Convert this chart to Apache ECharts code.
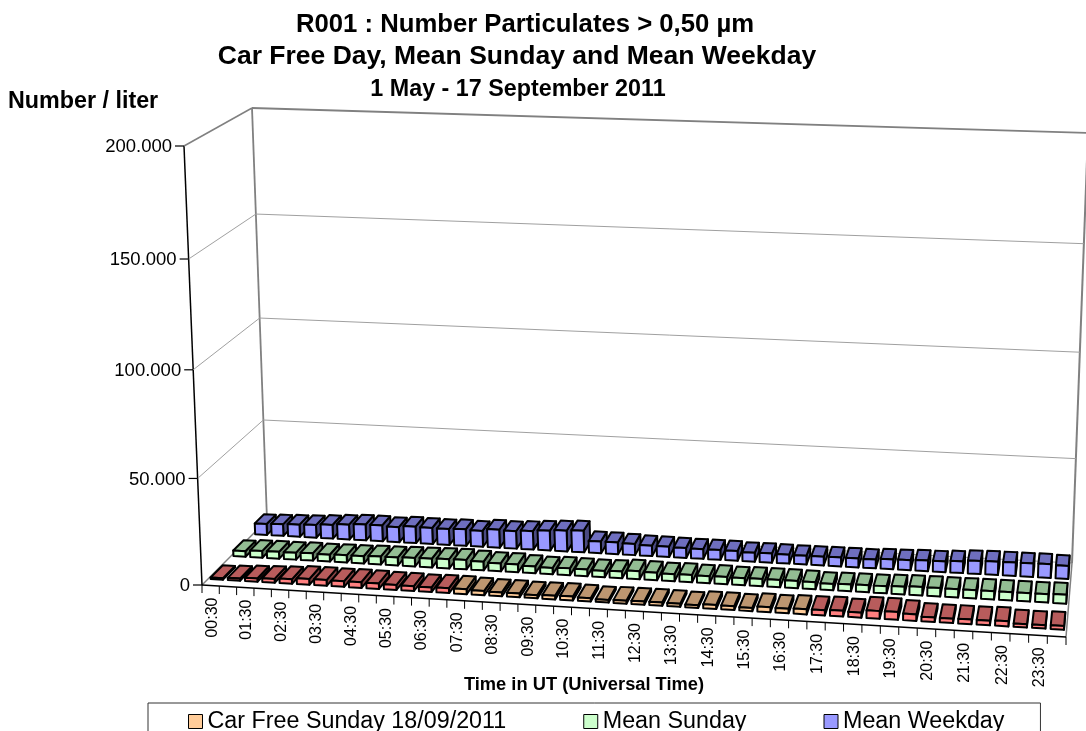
<!DOCTYPE html>
<html><head><meta charset="utf-8">
<style>html,body{margin:0;padding:0;background:#fff}#c{width:1086px;height:731px}</style>
<script src="https://cdn.jsdelivr.net/npm/echarts@6/dist/echarts.min.js"></script>
</head><body><div id="c"></div>
<script>
const categories = ["00:30","01:00","01:30","02:00","02:30","03:00","03:30","04:00","04:30","05:00","05:30","06:00","06:30","07:00","07:30","08:00","08:30","09:00","09:30","10:00","10:30","11:00","11:30","12:00","12:30","13:00","13:30","14:00","14:30","15:00","15:30","16:00","16:30","17:00","17:30","18:00","18:30","19:00","19:30","20:00","20:30","21:00","21:30","22:00","22:30","23:00","23:30","00:00"];
const carFreeSunday = [700,1000,1500,1800,2100,2700,2700,2600,2700,2600,2300,2300,2100,2300,2300,2000,1800,1800,1500,1700,1800,1500,1200,1400,1500,1500,1400,1200,1800,1800,1500,2300,2100,2400,2400,2700,2300,3500,3600,3000,2100,2000,2100,2100,2300,1500,1500,1700];
const meanSunday = [2700,3200,3300,3300,3500,3300,3500,3500,3800,3800,4100,4200,4400,4500,4100,3800,3800,3300,3000,3300,3200,3000,3200,3800,3600,3300,3500,3300,3500,3300,3500,3500,3500,3300,3000,3200,3300,3300,3600,3900,3900,3800,3900,3900,3900,3900,3900,4200];
const meanWeekday = [5400,5700,6000,6200,6700,7300,7800,7800,7400,8100,7900,7800,8100,7800,8800,8500,9000,9600,10100,10500,5700,5700,5400,5000,5000,4800,4700,4700,4700,4300,4400,4300,4200,4200,4300,4300,4200,4700,4800,5100,5100,5600,6200,6400,6400,6400,6500,6200];
const yTicks = [0,50000,100000,150000,200000];
const yTickLabels = ["0","50.000","100.000","150.000","200.000"];
const legendNames = ["Car Free Sunday 18/09/2011","Mean Sunday","Mean Weekday"];
const carFreeHours = ["07:30","17:00"];

const FONT = "'Liberation Sans', Arial, sans-serif";
function homography(p){
  const [x0,y0]=p[0],[x1,y1]=p[1],[x2,y2]=p[2],[x3,y3]=p[3];
  const dx1=x1-x2,dx2=x3-x2,sx=x0-x1+x2-x3,dy1=y1-y2,dy2=y3-y2,sy=y0-y1+y2-y3;
  const det=dx1*dy2-dx2*dy1;
  const g=(sx*dy2-dx2*sy)/det,h=(dx1*sy-sx*dy1)/det;
  const a=x1-x0+g*x1,b=x3-x0+h*x3,d=y1-y0+g*y1,e=y3-y0+h*y3;
  return (u,v)=>{const k=g*u+h*v+1;return [(a*u+b*v+x0)/k,(d*u+e*v+y0)/k];};
}
const floorH = homography([[202,585],[1066,637],[1072,563],[267,520]]);
const ceilH  = homography([[184,146],[1085,179],[1088,133],[252,108]]);
function P(u,v,w){
  const uu=u+0.042*u*(1-u), ww=w/(1+0.04*(1-w));
  const f=floorH(uu,v),c=ceilH(uu,v);
  return [f[0]+(c[0]-f[0])*ww,f[1]+(c[1]-f[1])*ww];
}
function uw(params,api,i,val){
  const cs=params.coordSys,pt=api.coord([i,val]);
  return [(pt[0]-cs.x)/cs.width,(cs.y+cs.height-pt[1])/cs.height];
}
function line(a,b,color,lw){return {type:'line',shape:{x1:a[0],y1:a[1],x2:b[0],y2:b[1]},style:{stroke:color,lineWidth:lw,fill:null}};}
function poly(points,fill){return {type:'polygon',shape:{points},style:{fill,stroke:'#000',lineWidth:2,lineJoin:'round'}};}

function barRenderer(v1,v2,colorFor){
  return function(params,api){
    const i=api.value(0),val=api.value(1);
    const [u,w]=uw(params,api,i,val);
    const bw=api.size([1,0])[0]/params.coordSys.width*0.72;
    const u1=u-bw/2,u2=u+bw/2;
    const c=colorFor(i);
    return {type:'group',children:[
      poly([P(u2,v1,0),P(u2,v2,0),P(u2,v2,w),P(u2,v1,w)],c[2]),
      poly([P(u1,v1,w),P(u2,v1,w),P(u2,v2,w),P(u1,v2,w)],c[1]),
      poly([P(u1,v1,0),P(u2,v1,0),P(u2,v1,w),P(u1,v1,w)],c[0])
    ]};
  };
}
const ORANGE=['#FFCC99','#BD9670','#806650'],RED=['#FF8080','#B85C5C','#804040'],GREEN=['#CCFFCC','#93BD93','#668066'],BLUE=['#9999FF','#6E6EBE','#4A4A82'];
const cfStart=categories.indexOf(carFreeHours[0]),cfEnd=categories.indexOf(carFreeHours[1]);
const idx=a=>a.map((v,i)=>[i,v]);

function frameRender(params,api){
  const val=api.value(1),i=params.dataIndex;
  const [,w]=uw(params,api,0,val);
  const GRAY='#808080',THIN='#a0a0a0';
  const a=P(0,0,w),b=P(0,1,w),c=P(1,1,w);
  const edge=(i===yTicks.length-1);
  const kids=[line(a,b,edge?GRAY:THIN,edge?1.5:1),line(b,c,edge?GRAY:THIN,edge?1.8:1),
    line([a[0]-9,a[1]],a,'#000',1.2),
    {type:'text',x:a[0]-12,y:a[1]+1,style:{text:yTickLabels[i],align:'right',verticalAlign:'middle',fontSize:18.5,fontFamily:FONT,fill:'#000'}}];
  if(i===0){
    kids.push(line(P(0,1,0),P(0,1,1),GRAY,1.8),line(P(1,1,0),P(1,1,1),GRAY,2),line(P(1,0,0),P(1,1,0),GRAY,1.5),line(P(0,0,0),P(0,1,0),GRAY,1.5));
    kids.push(line(P(0,0,0),P(0,0,1),'#000',1.5),line(P(0,0,0),P(1,0,0),'#000',1.5));
  }
  return {type:'group',children:kids};
}
function xRender(params,api){
  const i=api.value(0);
  const cs=params.coordSys,half=api.size([1,0])[0]/2;
  const [u]=uw(params,api,i,0);
  const du=half/cs.width;
  const t=P(u-du,0,0);
  const kids=[line(t,[t[0],t[1]+8],'#000',1)];
  if(i===categories.length-1){const e=P(u+du,0,0);kids.push(line(e,[e[0],e[1]+8],'#000',1));}
  if(i%2===0){const m=P(u,0,0);
    kids.push({type:'text',x:m[0]+1.5,y:m[1]+12,rotation:Math.PI/2,style:{text:categories[i],align:'right',verticalAlign:'middle',fontSize:16,fontFamily:FONT,fill:'#000'}});}
  return {type:'group',children:kids};
}
const title=(text,x,y,size,align)=>({text,left:x,top:y,textAlign:align,textStyle:{fontFamily:FONT,fontSize:size,fontWeight:'bold',color:'#000'}});
const option={
  animation:false,backgroundColor:'#fff',
  title:[
    title("R001 : Number Particulates > 0,50 µm",520,7,25.7,'center'),
    title("Car Free Day, Mean Sunday and Mean Weekday",512,38,26.5,'center'),
    title("1 May - 17 September 2011",513,73,23.3,'center'),
    title("Number / liter",3,85,23.3,'left'),
    title("Time in UT (Universal Time)",579,671,18.3,'center')
  ],
  grid:{left:202,top:146,width:864,height:439,containLabel:false},
  xAxis:{type:'category',data:categories,show:false},
  yAxis:{type:'value',min:0,max:200000,interval:50000,show:false},
  legend:{data:legendNames,left:148,top:703,padding:[7,36,30,40],itemGap:77,itemWidth:14,itemHeight:14,
    borderColor:'#333',borderWidth:1,icon:'rect',
    itemStyle:{borderColor:'#000',borderWidth:1},
    textStyle:{fontFamily:FONT,fontSize:23.3,color:'#000'}},
  series:[
    {type:'custom',name:'frame',coordinateSystem:'cartesian2d',z:1,silent:true,data:yTicks.map(v=>[0,v]),renderItem:frameRender,clip:false},
    {type:'custom',name:'xticks',coordinateSystem:'cartesian2d',z:1,silent:true,data:categories.map((c,i)=>[i,0]),renderItem:xRender,clip:false},
    {type:'custom',name:legendNames[2],coordinateSystem:'cartesian2d',z:2,itemStyle:{color:BLUE[0]},data:idx(meanWeekday),renderItem:barRenderer(0.77,0.92,()=>BLUE),clip:false},
    {type:'custom',name:legendNames[1],coordinateSystem:'cartesian2d',z:3,itemStyle:{color:GREEN[0]},data:idx(meanSunday),renderItem:barRenderer(0.43,0.59,()=>GREEN),clip:false},
    {type:'custom',name:legendNames[0],coordinateSystem:'cartesian2d',z:4,itemStyle:{color:ORANGE[0]},data:idx(carFreeSunday),renderItem:barRenderer(0.09,0.27,i=>(i>=cfStart&&i<=cfEnd)?ORANGE:RED),clip:false}
  ]
};
echarts.init(document.getElementById('c')).setOption(option);
</script></body></html>
